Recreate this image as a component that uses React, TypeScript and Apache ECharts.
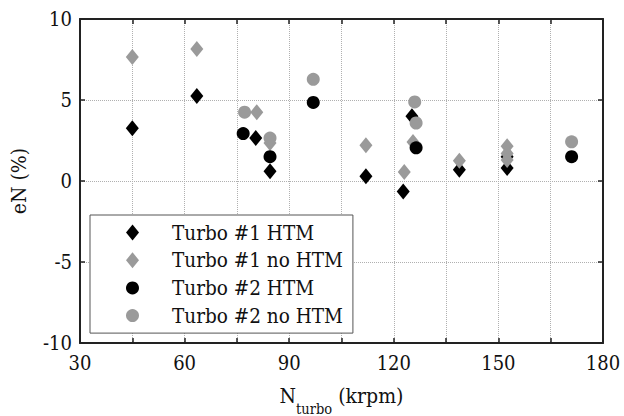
import React, { useEffect, useRef } from "react";
import * as echarts from "echarts";

const xTicksMin = 30;
const xTicksMax = 180;
const yMin = -10;
const yMax = 10;

const t1HTMx = [45, 63.5, 80.4, 84.5, 112, 122.7, 125.2, 138.8, 152.5, 152.5];
const t1HTMy = [3.25, 5.25, 2.65, 0.6, 0.3, -0.65, 4.0, 0.7, 0.8, 1.5];

const t1noHTMx = [45, 63.5, 80.7, 84.5, 112, 123, 125.5, 138.8, 152.5, 152.5, 152.5];
const t1noHTMy = [7.65, 8.15, 4.25, 2.35, 2.2, 0.55, 2.4, 1.25, 2.15, 1.7, 1.3];

const t2HTMx = [76.8, 84.5, 96.9, 126.4, 171];
const t2HTMy = [2.93, 1.5, 4.85, 2.05, 1.5];

const t2noHTMx = [77.2, 84.5, 96.9, 126, 126.4, 171];
const t2noHTMy = [4.25, 2.65, 6.28, 4.88, 3.58, 2.42];

const seriesNames = ["Turbo #1 HTM", "Turbo #1 no HTM", "Turbo #2 HTM", "Turbo #2 no HTM"];

const FONT = "DejaVu Serif Condensed";
const BLACK = "#000000";
const GRAY = "#9a9a9a";

const zip = (xs: number[], ys: number[]) => xs.map((x, i) => [x, ys[i]]);

export default function App() {
  const ref = useRef<HTMLDivElement>(null);
  useEffect(() => {
    if (!ref.current) return;
    const chart = echarts.init(ref.current, null, { renderer: "svg" });
    const axisLine = { show: true, onZero: false, lineStyle: { color: "#222", width: 2 } };
    const tick = { show: true, inside: true, length: 5, lineStyle: { color: "#222", width: 1.5 } };
    const split = { show: true, lineStyle: { type: "dotted" as const, color: "#b0b0b0", width: 1 } };
    chart.setOption({
      animation: false,
      backgroundColor: "#ffffff",
      textStyle: { fontFamily: FONT },
      grid: { left: 80, right: 21, top: 19, bottom: 73, containLabel: false, outerBoundsMode: "none" },
      legend: {
        orient: "vertical",
        left: 90,
        top: 215,
        padding: [6, 10, 6, 36],
        itemGap: 4.7,
        itemWidth: 13,
        itemHeight: 16,
        borderColor: "#555",
        borderWidth: 1,
        backgroundColor: "#fff",
        textStyle: { fontFamily: FONT, fontSize: 20.5, lineHeight: 23, color: "#111", padding: [0, 0, 0, 28] },
        data: seriesNames,
      },
      xAxis: [
        {
          type: "value",
          min: xTicksMin,
          max: xTicksMax,
          interval: 15,
          axisLine,
          axisTick: tick,
          splitLine: split,
          axisLabel: {
            margin: 10,
            fontFamily: FONT,
            fontSize: 20,
            color: "#111",
            formatter: (v: number) => (v % 30 === 0 ? String(v) : ""),
          },
          name: "{a|N}{b|turbo}{a| (krpm)}",
          nameLocation: "middle",
          nameGap: 42,
          nameTextStyle: {
            fontFamily: FONT,
            rich: {
              a: { fontFamily: FONT, fontSize: 21, lineHeight: 24, verticalAlign: "top", color: "#111" },
              b: { fontFamily: FONT, fontSize: 14.5, lineHeight: 15, padding: [16, 0, 0, 0], verticalAlign: "top", color: "#111" },
            },
          },
        },
        {
          type: "value",
          position: "top",
          min: xTicksMin,
          max: xTicksMax,
          interval: 15,
          axisLine,
          axisTick: tick,
          splitLine: { show: false },
          axisLabel: { show: false },
        },
      ],
      yAxis: [
        {
          type: "value",
          min: yMin,
          max: yMax,
          interval: 5,
          axisLine,
          axisTick: tick,
          splitLine: split,
          axisLabel: { margin: 8, fontFamily: FONT, fontSize: 20, color: "#111" },
          name: "eN (%)",
          nameLocation: "middle",
          nameGap: 51,
          nameTextStyle: { fontFamily: FONT, fontSize: 21, color: "#111" },
        },
        {
          type: "value",
          position: "right",
          min: yMin,
          max: yMax,
          interval: 5,
          axisLine,
          axisTick: tick,
          splitLine: { show: false },
          axisLabel: { show: false },
        },
      ],
      series: [
        {
          name: seriesNames[0],
          type: "scatter",
          symbol: "diamond",
          symbolSize: [13, 16],
          itemStyle: { color: BLACK, opacity: 1 },
          data: zip(t1HTMx, t1HTMy),
        },
        {
          name: seriesNames[1],
          type: "scatter",
          symbol: "diamond",
          symbolSize: [13, 16],
          itemStyle: { color: GRAY, opacity: 1 },
          data: zip(t1noHTMx, t1noHTMy),
        },
        {
          name: seriesNames[2],
          type: "scatter",
          symbol: "circle",
          symbolSize: 13,
          itemStyle: { color: BLACK, opacity: 1 },
          data: zip(t2HTMx, t2HTMy),
        },
        {
          name: seriesNames[3],
          type: "scatter",
          symbol: "circle",
          symbolSize: 13,
          itemStyle: { color: GRAY, opacity: 1 },
          data: zip(t2noHTMx, t2noHTMy),
        },
      ],
    });
    return () => chart.dispose();
  }, []);
  return <div ref={ref} style={{ width: 624, height: 416, position: "absolute", left: 0, top: 0 }} />;
}
